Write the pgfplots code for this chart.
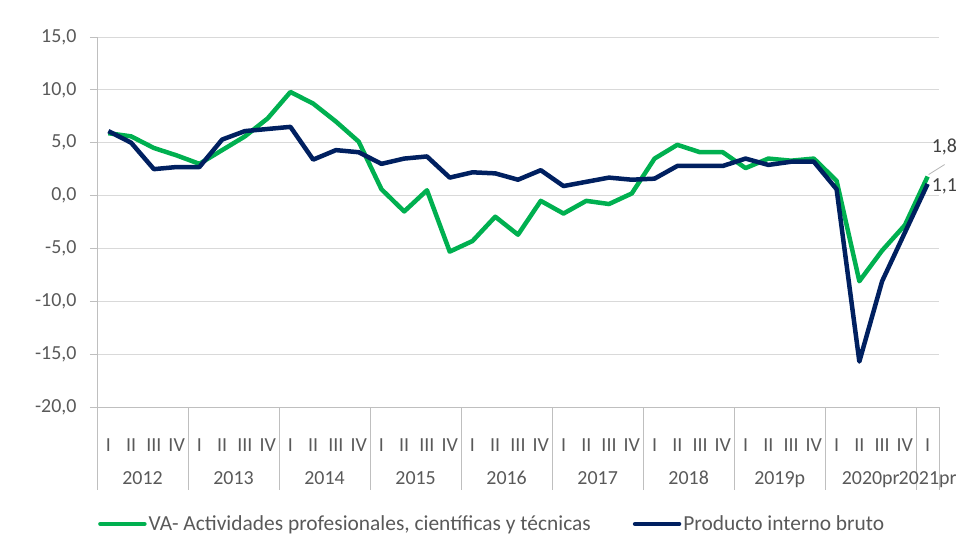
\documentclass[border=0pt]{standalone}
\usepackage{pgfplots}
\pgfplotsset{compat=1.18}
\usepackage{fontspec}
\setmainfont{Carlito}
\definecolor{vagreen}{HTML}{00B050}
\definecolor{pibblue}{HTML}{002060}
\definecolor{tickgray}{HTML}{595959}
\definecolor{gridgray}{HTML}{D9D9D9}
\definecolor{axgray}{HTML}{BFBFBF}
\definecolor{lblgray}{HTML}{404040}
\begin{document}
\begin{tikzpicture}
\path[use as bounding box] (-97bp,-149bp) rectangle (864bp,407bp);
\begin{axis}[
  scale only axis,
  width=842bp, height=370bp,
  xmin=-0.5, xmax=36.5,
  ymin=-20, ymax=15,
  ytick={-20,-15,...,15},
  xtick={0,...,36},
  xticklabels={I,II,III,IV,I,II,III,IV,I,II,III,IV,I,II,III,IV,I,II,III,IV,I,II,III,IV,I,II,III,IV,I,II,III,IV,I,II,III,IV,I},
  axis lines*=left,
  axis line style={draw=axgray, line width=0.8bp, -},
  ymajorgrids,
  major grid style={draw=gridgray, line width=1bp},
  x tick style={draw=none},
  y tick style={draw=axgray, line width=0.8bp},
  tick align=outside,
  major tick length=7bp,
  font=\fontsize{20}{24}\selectfont,
  tick label style={text=tickgray, font=\fontsize{20}{24}\selectfont},
  xticklabel style={anchor=base, yshift=-37bp},
  yticklabel style={xshift=-10bp},
  /pgf/number format/.cd, fixed, fixed zerofill, precision=1, use comma, assume math mode=true,
  /pgfplots/.cd,
  legend style={at={(-0.0024,-0.316)}, anchor=west, draw=none, fill=none,
    legend columns=2, text=tickgray, font=\fontsize{21.5}{25}\selectfont,
    /tikz/every even column/.append style={column sep=40bp}},
  legend image code/.code={\draw[#1, line cap=round] (0bp,0bp) -- (44bp,0bp);},
  clip=false,
]
\addplot[vagreen, line width=4.5bp, line join=round] coordinates {
(0,5.9) (1,5.6) (2,4.5) (3,3.8) (4,3.0) (5,4.3) (6,5.6) (7,7.3) (8,9.8) (9,8.7)
(10,7.0) (11,5.1) (12,0.6) (13,-1.5) (14,0.5) (15,-5.3) (16,-4.3) (17,-2.0) (18,-3.7) (19,-0.5)
(20,-1.7) (21,-0.5) (22,-0.8) (23,0.2) (24,3.5) (25,4.8) (26,4.1) (27,4.1) (28,2.6) (29,3.5)
(30,3.3) (31,3.5) (32,1.4) (33,-8.1) (34,-5.2) (35,-2.8) (36,1.8)};
\addlegendentry{VA- Actividades profesionales, científicas y técnicas}
\addplot[pibblue, line width=4.5bp, line join=round] coordinates {
(0,6.1) (1,5.0) (2,2.5) (3,2.7) (4,2.7) (5,5.3) (6,6.1) (7,6.3) (8,6.5) (9,3.4)
(10,4.3) (11,4.1) (12,3.0) (13,3.5) (14,3.7) (15,1.7) (16,2.2) (17,2.1) (18,1.5) (19,2.4)
(20,0.9) (21,1.3) (22,1.7) (23,1.5) (24,1.6) (25,2.8) (26,2.8) (27,2.8) (28,3.5) (29,2.9)
(30,3.2) (31,3.2) (32,0.6) (33,-15.7) (34,-8.1) (35,-3.5) (36,1.1)};
\addlegendentry{Producto interno bruto}
% year separators
\draw[axgray, line width=0.8bp] (axis cs:-0.5,-20) -- ([yshift=-83bp]axis cs:-0.5,-20);
\draw[axgray, line width=0.8bp] (axis cs:3.5,-20) -- ([yshift=-83bp]axis cs:3.5,-20);
\draw[axgray, line width=0.8bp] (axis cs:7.5,-20) -- ([yshift=-83bp]axis cs:7.5,-20);
\draw[axgray, line width=0.8bp] (axis cs:11.5,-20) -- ([yshift=-83bp]axis cs:11.5,-20);
\draw[axgray, line width=0.8bp] (axis cs:15.5,-20) -- ([yshift=-83bp]axis cs:15.5,-20);
\draw[axgray, line width=0.8bp] (axis cs:19.5,-20) -- ([yshift=-83bp]axis cs:19.5,-20);
\draw[axgray, line width=0.8bp] (axis cs:23.5,-20) -- ([yshift=-83bp]axis cs:23.5,-20);
\draw[axgray, line width=0.8bp] (axis cs:27.5,-20) -- ([yshift=-83bp]axis cs:27.5,-20);
\draw[axgray, line width=0.8bp] (axis cs:31.5,-20) -- ([yshift=-83bp]axis cs:31.5,-20);
\draw[axgray, line width=0.8bp] (axis cs:35.5,-20) -- ([yshift=-83bp]axis cs:35.5,-20);
\draw[axgray, line width=0.8bp] (axis cs:36.5,-20) -- ([yshift=-83bp]axis cs:36.5,-20);
% years
\node[anchor=base, text=tickgray, inner sep=0pt] at ([yshift=-77bp]axis cs:1.5,-20) {2012};
\node[anchor=base, text=tickgray, inner sep=0pt] at ([yshift=-77bp]axis cs:5.5,-20) {2013};
\node[anchor=base, text=tickgray, inner sep=0pt] at ([yshift=-77bp]axis cs:9.5,-20) {2014};
\node[anchor=base, text=tickgray, inner sep=0pt] at ([yshift=-77bp]axis cs:13.5,-20) {2015};
\node[anchor=base, text=tickgray, inner sep=0pt] at ([yshift=-77bp]axis cs:17.5,-20) {2016};
\node[anchor=base, text=tickgray, inner sep=0pt] at ([yshift=-77bp]axis cs:21.5,-20) {2017};
\node[anchor=base, text=tickgray, inner sep=0pt] at ([yshift=-77bp]axis cs:25.5,-20) {2018};
\node[anchor=base, text=tickgray, inner sep=0pt] at ([yshift=-77bp]axis cs:29.5,-20) {2019p};
\node[anchor=base, text=tickgray, inner sep=0pt] at ([yshift=-77bp]axis cs:33.5,-20) {2020pr};
\node[anchor=base, text=tickgray, inner sep=0pt] at ([yshift=-77bp]axis cs:36,-20) {2021pr};
% data labels
\draw[gridgray!60!gray, line width=0.8bp] ([xshift=1bp,yshift=2bp]axis cs:36,1.8) -- ([xshift=17bp,yshift=12bp]axis cs:36,1.8);
\node[anchor=west, text=lblgray, inner sep=0pt] at ([xshift=4bp,yshift=30bp]axis cs:36,1.8) {1,8};
\node[anchor=west, text=lblgray, inner sep=0pt] at ([xshift=4bp,yshift=-2bp]axis cs:36,1.1) {1,1};
\end{axis}
\end{tikzpicture}
\end{document}
